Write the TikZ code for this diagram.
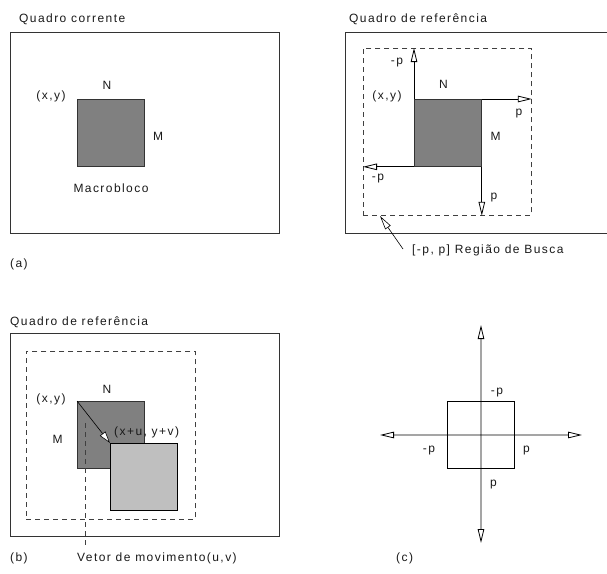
\documentclass[tikz,border=0pt]{standalone}
\usepackage{fontspec}
\setmainfont{Liberation Sans}[LetterSpace=12]
\usetikzlibrary{arrows.meta,positioning,calc}

\begin{document}
\begin{tikzpicture}[x=1pt, y=-1pt,
        font=\fontsize{12}{14}\selectfont,
        frame/.style={rectangle, draw=black!80, line width=0.8pt, inner sep=0pt, anchor=north west},
        mblock/.style={rectangle, draw=black!80, line width=0.8pt, fill=black!50, minimum size=67pt, inner sep=0pt, anchor=north west},
        lblock/.style={mblock, fill=black!25, draw=black},
        search/.style={draw=black!75, line width=0.8pt, dash pattern=on 5pt off 4pt},
        lbl/.style={inner sep=0pt, anchor=base, text=black!90},
        arrow/.style={-{Triangle[open, length=14pt, width=6.5pt]}, line width=0.8pt},
        motion/.style={-{Triangle[length=12pt, width=7pt, fill=white]}, line width=0.6pt}
    ]
    \useasboundingbox (0,0) rectangle (607,573);

    % (a) quadro corrente
    \node[lbl, anchor=base west] (titleA) at (19,22) {Quadro corrente};
    \node[frame, minimum width=269pt, minimum height=201pt] (frameA) at (10,32) {};
    \node[mblock] (blockA) at (77,99) {};
    \node[lbl] (nA) at (107,89) {N};
    \node[lbl] (xyA) at (51,99) {(x,y)};
    \node[lbl] (mA) at (158,140) {M};
    \node[lbl] (macro) at (111,192) {Macrobloco};
    \node[lbl, anchor=base west] (capA) at (10,267) {(a)};

    % quadro de referencia com regiao de busca
    \node[lbl, anchor=base west] (titleR) at (349,22) {Quadro de referência};
    \draw[draw=black!80, line width=0.8pt] (607,32) -- (345,32) -- (345,233) -- (607,233);
    \node[frame, search, minimum width=168pt, minimum height=167pt] (searchR) at (363,48) {};
    \node[mblock] (blockR) at (414,99) {};
    \draw[arrow] (blockR.north west) -- (blockR.north west |- searchR.north);
    \draw[arrow] (blockR.north east) -- (blockR.north east -| searchR.east);
    \draw[arrow] (blockR.south west) -- (blockR.south west -| searchR.west);
    \draw[arrow] (blockR.south east) -- (blockR.south east |- searchR.south);
    \node[lbl] (npUp) at (397,64) {-p};
    \node[lbl] (nR) at (443.5,88) {N};
    \node[lbl] (xyR) at (387,99) {(x,y)};
    \node[lbl] (pRight) at (519,115) {p};
    \node[lbl] (mR) at (495.5,140) {M};
    \node[lbl] (npLeft) at (378,180) {-p};
    \node[lbl] (pDown) at (494,199) {p};
    \node[lbl, anchor=base west] (busca) at (412,253) {[-p, p] Região de Busca};
    \coordinate (buscaTail) at (403,249);
    \coordinate (buscaTip) at (380,216);
    \draw[arrow, line width=0.6pt] (buscaTail) -- (buscaTip);

    % (b) vetor de movimento
    \node[lbl, anchor=base west] (titleB) at (10,325) {Quadro de referência};
    \node[frame, minimum width=269pt, minimum height=203pt] (frameB) at (10,333) {};
    \node[frame, search, minimum width=169pt, minimum height=168pt] (searchB) at (26,351) {};
    \node[mblock] (blockB) at (77,401) {};
    \node[lblock] (movedB) at (110,443) {};
    \coordinate (vetTop) at (85,423);
    \coordinate (vetBot) at (85,545);
    \draw[search] (vetTop) -- (vetBot);
    \draw[motion] (blockB.north west) -- (movedB.north west);
    \node[lbl] (nB) at (107,393) {N};
    \node[lbl] (xyB) at (51,402) {(x,y)};
    \node[lbl] (mB) at (57.5,443) {M};
    \node[lbl, anchor=base west] (uvB) at (114,435) {(x+u, y+v)};
    \node[lbl, anchor=base west] (vetor) at (77,561) {Vetor de movimento(u,v)};
    \node[lbl, anchor=base west] (capB) at (10,561) {(b)};

    % (c) janela de busca
    \node[rectangle, draw=black, line width=0.8pt, minimum size=67pt, inner sep=0pt, anchor=north west] (sq) at (447,401) {};
    \coordinate (cTop) at (481,325);
    \coordinate (cBot) at (481,543);
    \coordinate (cLeft) at (380,435);
    \coordinate (cRight) at (582,435);
    \draw[arrow] (sq.center) -- (cTop);
    \draw[arrow] (sq.center) -- (cBot);
    \draw[arrow] (sq.center) -- (cLeft);
    \draw[arrow] (sq.center) -- (cRight);
    \node[lbl] (npC1) at (497,394) {-p};
    \node[lbl] (npC2) at (429,452) {-p};
    \node[lbl] (pC1) at (526.5,452) {p};
    \node[lbl] (pC2) at (493.5,486) {p};
    \node[lbl, anchor=base west] (capC) at (396,561) {(c)};

\end{tikzpicture}
\end{document}
